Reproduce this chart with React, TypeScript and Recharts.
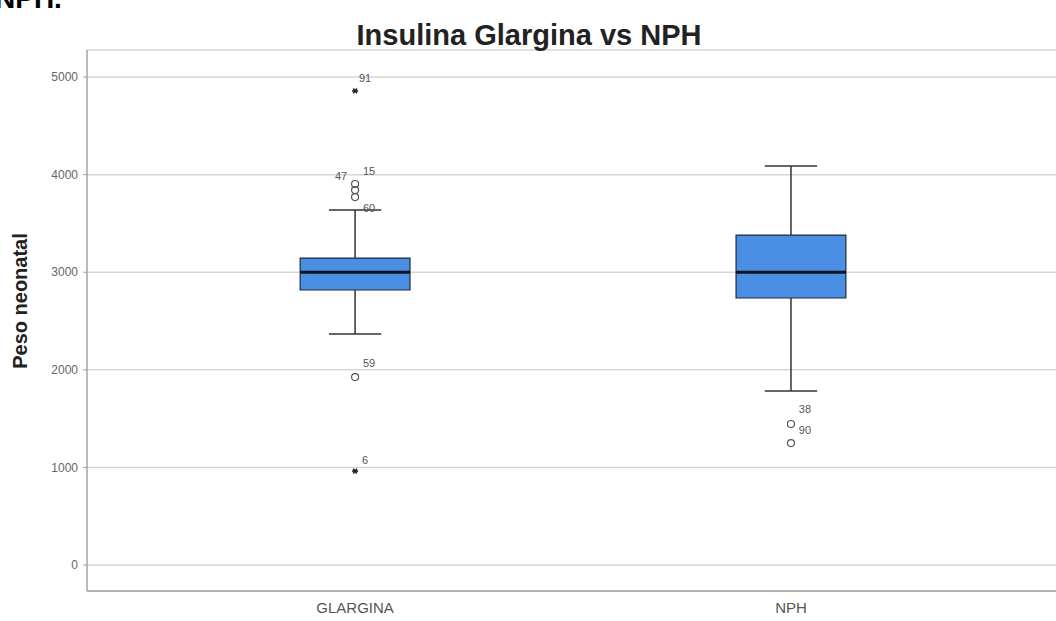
import React from "react";
import {
  ComposedChart,
  XAxis,
  YAxis,
  CartesianGrid,
  ReferenceArea,
  ReferenceLine,
  Scatter,
} from "recharts";

const groups = ["GLARGINA", "NPH"];
const q1 = [2818, 2736];
const median = [3000, 3000];
const q3 = [3145, 3381];
const whiskerLow = [2367, 1783];
const whiskerHigh = [3637, 4088];

const outlierGroup = [0, 0, 0, 0, 0, 0, 1, 1];
const outlierValues = [4857, 3904, 3842, 3770, 1926, 963, 1445, 1250];
const outlierIds = ["91", "47", "15", "60", "59", "6", "38", "90"];
const outlierExtreme = [true, false, false, false, false, true, false, false];

const yTicks = [0, 1000, 2000, 3000, 4000, 5000];

// styling: label offsets relative to the marker (px)
const labelOffsets: Record<string, [number, number]> = {
  "91": [10, -12],
  "47": [-14, -7],
  "15": [14, -18],
  "60": [14, 12],
  "59": [14, -13],
  "6": [10, -10],
  "38": [14, -14],
  "90": [14, -12],
};

const BOX_HALF = 0.126;
const CAP_HALF = 0.06;

const outlierData = outlierValues.map((v, i) => ({
  x: outlierGroup[i] + 1,
  y: v,
  id: outlierIds[i],
  extreme: outlierExtreme[i],
}));

const OutlierShape = (props: any) => {
  const { cx, cy, payload } = props;
  if (cx == null || cy == null) return null;
  const off = labelOffsets[payload.id] || [12, -10];
  const r = 3;
  return (
    <g>
      {payload.extreme ? (
        <g stroke="#222" strokeWidth={1.6}>
          <line x1={cx - r} y1={cy} x2={cx + r} y2={cy} />
          <line x1={cx - r * 0.6} y1={cy - r * 0.8} x2={cx + r * 0.6} y2={cy + r * 0.8} />
          <line x1={cx - r * 0.6} y1={cy + r * 0.8} x2={cx + r * 0.6} y2={cy - r * 0.8} />
        </g>
      ) : (
        <circle cx={cx} cy={cy} r={3.5} fill="none" stroke="#555" strokeWidth={1.2} />
      )}
      <text
        x={cx + off[0]}
        y={cy + off[1]}
        textAnchor="middle"
        dominantBaseline="middle"
        fontSize={11}
        fill="#555"
        fontFamily="Liberation Sans, Arial, sans-serif"
      >
        {payload.id}
      </text>
    </g>
  );
};

export default function App() {
  return (
    <div style={{ position: "absolute", left: 0, top: 0, width: 1056, height: 621, background: "#fff", overflow: "hidden" }}>
      <ComposedChart
        width={1056}
        height={621}
        margin={{ top: 50, right: 0, bottom: 0, left: 27 }}
        style={{ fontFamily: "Liberation Sans, Arial, sans-serif" }}
      >
        <CartesianGrid horizontal vertical={false} stroke="#d6d6d6" strokeWidth={1.5} />
        <XAxis
          type="number"
          dataKey="x"
          domain={[0.385, 2.608]}
          allowDataOverflow
          ticks={[1, 2]}
          tickFormatter={(v: number) => groups[v - 1] ?? ""}
          axisLine={{ stroke: "#a3a3a3", strokeWidth: 1.5 }}
          tickLine={false}
          tickSize={6}
          tickMargin={5}
          height={30}
          tick={{ fontSize: 15, fill: "#555" }}
        />
        <YAxis
          type="number"
          dataKey="y"
          domain={[-266, 5277]}
          allowDataOverflow
          ticks={yTicks}
          width={60}
          axisLine={{ stroke: "#a3a3a3", strokeWidth: 1.5 }}
          tickLine={{ stroke: "#a3a3a3" }}
          tickSize={4}
          tickMargin={5}
          tick={{ fontSize: 12, fill: "#666" }}
        />
        {groups.map((g, i) => (
          <ReferenceLine
            key={"wu" + g}
            segment={[{ x: i + 1, y: q3[i] }, { x: i + 1, y: whiskerHigh[i] }]}
            stroke="#333"
            strokeWidth={1.5}
          />
        ))}
        {groups.map((g, i) => (
          <ReferenceLine
            key={"wl" + g}
            segment={[{ x: i + 1, y: q1[i] }, { x: i + 1, y: whiskerLow[i] }]}
            stroke="#333"
            strokeWidth={1.5}
          />
        ))}
        {groups.map((g, i) => (
          <ReferenceLine
            key={"cu" + g}
            segment={[{ x: i + 1 - CAP_HALF, y: whiskerHigh[i] }, { x: i + 1 + CAP_HALF, y: whiskerHigh[i] }]}
            stroke="#333"
            strokeWidth={1.5}
          />
        ))}
        {groups.map((g, i) => (
          <ReferenceLine
            key={"cl" + g}
            segment={[{ x: i + 1 - CAP_HALF, y: whiskerLow[i] }, { x: i + 1 + CAP_HALF, y: whiskerLow[i] }]}
            stroke="#333"
            strokeWidth={1.5}
          />
        ))}
        {groups.map((g, i) => (
          <ReferenceArea
            key={"box" + g}
            x1={i + 1 - BOX_HALF}
            x2={i + 1 + BOX_HALF}
            y1={q1[i]}
            y2={q3[i]}
            fill="#4a8fe3"
            fillOpacity={1}
            stroke="#1d2b3f"
            strokeWidth={1.2}
          />
        ))}
        {groups.map((g, i) => (
          <ReferenceLine
            key={"med" + g}
            segment={[{ x: i + 1 - BOX_HALF, y: median[i] }, { x: i + 1 + BOX_HALF, y: median[i] }]}
            stroke="#0d1420"
            strokeWidth={3}
          />
        ))}
        <Scatter data={outlierData} dataKey="y" isAnimationActive={false} shape={OutlierShape} />
      </ComposedChart>
      <svg
        width={1056}
        height={621}
        style={{ position: "absolute", left: 0, top: 0, pointerEvents: "none" }}
        fontFamily="Liberation Sans, Arial, sans-serif"
      >
        <text x={-5} y={8} fontSize={28} fontWeight="bold" fill="#000">
          NPH.
        </text>
        <text x={529} y={45} fontSize={29} fontWeight="bold" fill="#222" textAnchor="middle">
          Insulina Glargina vs NPH
        </text>
        <text
          x={0}
          y={0}
          transform="translate(27,301) rotate(-90)"
          fontSize={20}
          fontWeight="bold"
          fill="#222"
          textAnchor="middle"
        >
          Peso neonatal
        </text>
      </svg>
    </div>
  );
}
